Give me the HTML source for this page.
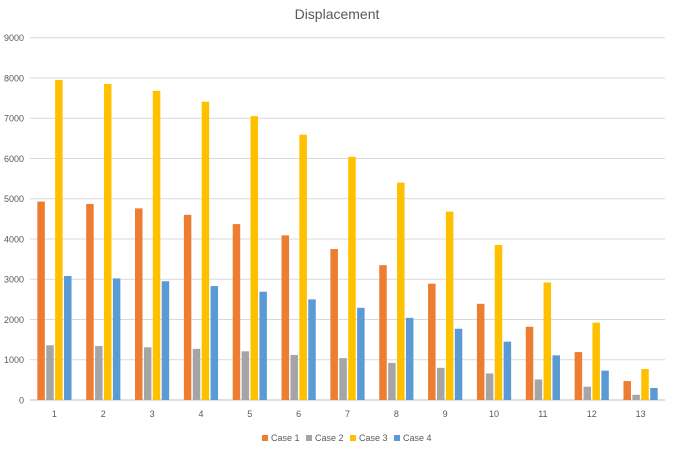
<!DOCTYPE html>
<html><head><meta charset="utf-8"><style>
body{margin:0;background:#fff;font-family:"Liberation Sans",sans-serif}
svg text{font-family:"Liberation Sans",sans-serif;fill:#595959}
</style></head><body>
<svg id="chart" width="675" height="450" xmlns="http://www.w3.org/2000/svg">
<text x="337" y="19" text-anchor="middle" font-size="14">Displacement</text>
<g id="grid"></g><g id="bars"></g><g id="axes"></g><g id="legend"></g>
</svg>
<script>
const categories=["1","2","3","4","5","6","7","8","9","10","11","12","13"];
const case1=[4930,4870,4760,4600,4370,4090,3750,3350,2890,2390,1820,1190,470];
const case2=[1360,1340,1310,1270,1210,1120,1040,920,800,660,510,330,130];
const case3=[7950,7850,7680,7410,7050,6590,6040,5400,4680,3850,2920,1920,770];
const case4=[3080,3020,2950,2830,2690,2500,2290,2040,1770,1450,1110,730,300];
const yTicks=[0,1000,2000,3000,4000,5000,6000,7000,8000,9000];
const seriesNames=["Case 1","Case 2","Case 3","Case 4"];
const series=[case1,case2,case3,case4];
const colors=["#ED7D31","#A5A5A5","#FFC000","#5B9BD5"];
const NS="http://www.w3.org/2000/svg";
const L=30,R=665,T=37.7,B=400,YMAX=9000;
const y=v=>B-(v/YMAX)*(B-T);
const bw=(R-L)/categories.length;
const x=i=>L+bw*i;
function mk(t,a,p){const e=document.createElementNS(NS,t);for(const k in a)e.setAttribute(k,a[k]);p.appendChild(e);return e;}
const grid=document.getElementById('grid'),bars=document.getElementById('bars'),axes=document.getElementById('axes'),leg=document.getElementById('legend');
yTicks.forEach(v=>{
 const l=mk('line',{x1:L,x2:R,y1:y(v),y2:y(v),stroke:v===0?'#BFBFBF':'#D9D9D9','stroke-width':1},grid);
 
 
 const t=mk('text',{x:24,y:y(v)+3.5,'text-anchor':'end','font-size':9},axes);t.textContent=v;
 
 
});
const barW=7.5,step=8.9,groupW=step*3+barW;
categories.forEach((c,i)=>{
 const cx=x(i)+bw/2;
 series.forEach((s,j)=>{
  const bx=cx-groupW/2+j*step;
  const r=mk('rect',{x:bx,y:y(s[i]),width:barW,height:B-y(s[i]),fill:colors[j]},bars);
  
  
 });
 const t=mk('text',{x:cx,y:417,'text-anchor':'middle','font-size':9},axes);t.textContent=c;
 
 
});
const lx=[262,306,350,394];
seriesNames.forEach((n,j)=>{
 const g=mk('g',{},leg);
 
 
 mk('rect',{x:lx[j],y:435,width:6,height:6,fill:colors[j]},g);
 const t=mk('text',{x:lx[j]+9,y:441,'font-size':9},g);t.textContent=n;
});
</script>
</body></html>
